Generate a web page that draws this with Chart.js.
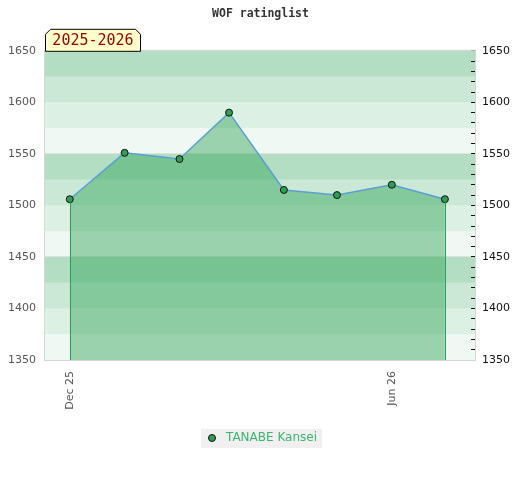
<!DOCTYPE html>
<html>
<head>
<meta charset="utf-8">
<script src="https://cdn.jsdelivr.net/npm/chart.js@4.4.1/dist/chart.umd.min.js"></script>
<style>
  html, body { margin: 0; padding: 0; background: #ffffff; }
  #wrap { width: 520px; height: 480px; }
</style>
</head>
<body>
<div id="wrap"><canvas id="c" width="520" height="480"></canvas></div>
<script>
// ---- data ----
const chartTitle = 'WOF ratinglist';
const seasonLabel = '2025-2026';
const seriesName = 'TANABE Kansei';
const dates = ['2025-12-01', '2026-01-01', '2026-02-01', '2026-03-01', '2026-04-01', '2026-05-01', '2026-06-01', '2026-07-01'];
const ratings = [1506, 1551, 1545, 1590, 1515, 1510, 1520, 1506];
const xTickDates = ['2025-12-01', '2026-06-01'];
const xTickLabels = ['Dec 25', 'Jun 26'];
const yMin = 1350, yMax = 1650;

// ---- helpers ----
const DAY = 86400000;
const base = Date.parse(dates[0]);
const toDay = d => Math.round((Date.parse(d) - base) / DAY);
const points = dates.map((d, i) => ({ x: toDay(d), y: ratings[i] }));
const xTickDays = xTickDates.map(toDay);

const bandAlphas = [0.39, 0.27, 0.18, 0.08];
const bandStep = 25;

// legend marker image
const marker = document.createElement('canvas');
marker.width = 10; marker.height = 10;
(function () {
  const m = marker.getContext('2d');
  m.beginPath();
  m.arc(5, 5, 3.5, 0, Math.PI * 2);
  m.fillStyle = '#2f9e55';
  m.fill();
  m.lineWidth = 1;
  m.strokeStyle = '#111';
  m.stroke();
})();

const bgPlugin = {
  id: 'bgPlugin',
  beforeDraw(chart) {
    const { ctx, chartArea: a, scales } = chart;
    const y = scales.y;
    ctx.save();
    let i = 0;
    for (let v = y.max; v > y.min; v -= bandStep, i++) {
      const top = y.getPixelForValue(v);
      const bot = y.getPixelForValue(v - bandStep);
      ctx.fillStyle = 'rgba(60,170,100,' + bandAlphas[i % bandAlphas.length] + ')';
      ctx.fillRect(a.left, top, a.right - a.left, bot - top);
    }
    // legend background
    const lg = chart.legend;
    if (lg && lg.legendHitBoxes && lg.legendHitBoxes.length) {
      const hb = lg.legendHitBoxes[0];
      const cy = hb.top + hb.height / 2;
      ctx.fillStyle = '#f0f0f0';
      ctx.fillRect(Math.round(hb.left) - 3, Math.round(cy - 9.5), Math.round(hb.width) + 8, 19);
    }
    ctx.restore();
  },
  afterDatasetsDraw(chart) {
    const { ctx, chartArea: a, scales } = chart;
    const x = scales.x, y = scales.y;
    ctx.save();
    // vertical edge lines of the area
    ctx.strokeStyle = '#2f9e55';
    ctx.lineWidth = 1;
    [points[0], points[points.length - 1]].forEach(p => {
      const px = Math.round(x.getPixelForValue(p.x)) + 0.5;
      ctx.beginPath();
      ctx.moveTo(px, y.getPixelForValue(p.y) + 3);
      ctx.lineTo(px, a.bottom);
      ctx.stroke();
    });
    // plot border
    ctx.strokeStyle = '#d6d6d6';
    ctx.strokeRect(a.left - 0.5, a.top - 0.5, a.right - a.left + 1, a.bottom - a.top + 1);
    ctx.restore();
  },
  afterDraw(chart) {
    const { ctx, chartArea: a } = chart;
    ctx.save();
    const w = 95, h = 22, c = 5;
    const l = a.left + 0.5, t = a.top - h + 0.5, r = l + w, b = a.top + 0.5;
    ctx.beginPath();
    ctx.moveTo(l, b);
    ctx.lineTo(l, t + c);
    ctx.lineTo(l + c, t);
    ctx.lineTo(r - c, t);
    ctx.lineTo(r, t + c);
    ctx.lineTo(r, b);
    ctx.closePath();
    ctx.fillStyle = '#ffffcc';
    ctx.fill();
    ctx.strokeStyle = '#000';
    ctx.lineWidth = 1;
    ctx.stroke();
    ctx.fillStyle = '#990000';
    ctx.font = '15px "DejaVu Sans Mono"';
    ctx.textAlign = 'center';
    ctx.textBaseline = 'middle';
    ctx.fillText(seasonLabel, l + w / 2, t + h / 2 + 1);
    ctx.restore();
  }
};

new Chart(document.getElementById('c'), {
  type: 'line',
  data: {
    datasets: [{
      label: seriesName,
      data: points,
      borderColor: '#5a9fd4',
      borderWidth: 1.5,
      backgroundColor: 'rgba(40,160,80,0.43)',
      fill: 'start',
      tension: 0,
      pointRadius: 3.5,
      pointHoverRadius: 3.5,
      pointBackgroundColor: '#2f9e55',
      pointBorderColor: '#111',
      pointBorderWidth: 1
    }]
  },
  options: {
    responsive: false,
    animation: false,
    layout: { padding: { left: 1, right: 0, top: 0, bottom: 26 } },
    plugins: {
      title: {
        display: true,
        text: chartTitle,
        color: '#333',
        font: { family: '"DejaVu Sans Mono"', size: 11.5, weight: 'bold' },
        padding: { top: 7, bottom: 30 }
      },
      legend: {
        display: true,
        position: 'bottom',
        labels: {
          color: '#3cb371',
          font: { family: '"DejaVu Sans"', size: 12 },
          usePointStyle: true,
          pointStyleWidth: 16,
          boxHeight: 8,
          padding: 10,
          generateLabels: chart => chart.data.datasets.map((ds, i) => ({
            text: ds.label,
            fillStyle: '#2f9e55',
            strokeStyle: '#111',
            lineWidth: 1,
            pointStyle: marker,
            fontColor: '#3cb371',
            datasetIndex: i
          }))
        }
      },
      tooltip: { enabled: false }
    },
    scales: {
      x: {
        type: 'linear',
        min: -14,
        max: 229,
        afterBuildTicks: s => { s.ticks = xTickDays.map(v => ({ value: v })); },
        afterFit: s => { s.height = 62; },
        ticks: {
          color: '#555',
          font: { family: '"DejaVu Sans"', size: 11 },
          minRotation: 90,
          maxRotation: 90,
          padding: 3,
          callback: (v, i) => xTickLabels[i]
        },
        grid: { display: false },
        border: { display: false }
      },
      y: {
        type: 'linear',
        position: 'left',
        min: yMin,
        max: yMax,
        afterFit: s => { s.width = 44; },
        ticks: {
          stepSize: 50,
          color: '#555',
          font: { family: '"DejaVu Sans"', size: 11 },
          padding: 9,
          callback: v => String(v)
        },
        grid: {
          drawTicks: false,
          color: ctx => (ctx.tick && (ctx.tick.value - yMin) % 100 === 0) ? '#e0e0e0' : 'rgba(0,0,0,0)'
        },
        border: { display: false }
      },
      y2: {
        type: 'linear',
        position: 'right',
        min: yMin,
        max: yMax,
        afterFit: s => { s.width = 45; },
        ticks: {
          stepSize: 10,
          autoSkip: false,
          color: '#111',
          font: { family: '"DejaVu Sans"', size: 11 },
          padding: 11,
          callback: v => (v % 50 === 0 ? String(v) : '')
        },
        grid: {
          drawOnChartArea: false,
          drawTicks: true,
          tickLength: -4,
          color: '#111'
        },
        border: { display: false }
      }
    }
  },
  plugins: [bgPlugin]
});
</script>
</body>
</html>
